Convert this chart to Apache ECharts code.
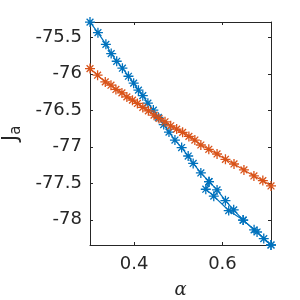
<!DOCTYPE html>
<html><head><meta charset="utf-8">
<script src="https://cdn.jsdelivr.net/npm/echarts@6/dist/echarts.min.js"></script>
<style>html,body{margin:0;padding:0;background:#fff}#c{width:300px;height:300px}</style>
</head><body><div id="c"></div>
<script>
// Blue series: alpha values and J_a values (main path)
const blueX = [0.300,0.318,0.336,0.348,0.3605,0.3734,0.3871,0.3989,0.4097,0.4196,0.4311,0.4435,0.4548,0.467,0.4789,0.4924,0.5076,0.5224,0.5337,0.5511,0.5696,0.5878,0.6068,0.6255,0.6469,0.6717,0.6936,0.710];
const blueY = [-75.291,-75.436,-75.596,-75.723,-75.828,-75.923,-76.033,-76.128,-76.224,-76.299,-76.402,-76.497,-76.596,-76.695,-76.798,-76.907,-77.010,-77.126,-77.228,-77.358,-77.477,-77.590,-77.738,-77.863,-78.004,-78.137,-78.257,-78.345];
// Blue second branch (overlapping run)
const blue2X = [0.5696,0.5623,0.5804,0.6142,0.6469,0.6784,0.710];
const blue2Y = [-77.477,-77.581,-77.676,-77.873,-78.004,-78.167,-78.345];
// Orange series
const orangeX = [0.300,0.3172,0.3346,0.3475,0.3587,0.3723,0.3835,0.3962,0.4074,0.4196,0.4322,0.4451,0.4564,0.4699,0.4828,0.4963,0.5098,0.524,0.5375,0.5511,0.5691,0.5878,0.6068,0.6262,0.6487,0.6713,0.6915,0.710];
const orangeY = [-75.928,-76.019,-76.111,-76.156,-76.214,-76.261,-76.316,-76.361,-76.406,-76.460,-76.507,-76.566,-76.611,-76.657,-76.712,-76.757,-76.802,-76.857,-76.907,-76.975,-77.034,-77.098,-77.171,-77.235,-77.317,-77.399,-77.463,-77.536];
const xTicks = [0.4, 0.6];
const yTicks = [-78, -77.5, -77, -76.5, -76, -75.5];

const BLUE = '#0072BD', ORANGE = '#D95319', AX = '#262626';
const STAR = 'path://M5,0L5,10M0,5L10,5M1.6,1.6L8.4,8.4M1.6,8.4L8.4,1.6';
const zip = (a, b) => a.map((v, i) => [v, b[i]]);
const font = 'DejaVu Sans';

function mkSeries(x, y, c) {
  return {
    type: 'line', data: zip(x, y), symbol: STAR, symbolSize: 10,
    itemStyle: { color: c, borderColor: c, borderWidth: 1.3 },
    lineStyle: { color: c, width: 1.2 }, silent: true, animation: false
  };
}
const xRange = { min: 0.3, max: 0.71 };
const yRange = { min: -78.345, max: -75.29 };
const axLine = { show: true, lineStyle: { color: AX, width: 1 } };

const chart = echarts.init(document.getElementById('c'));
chart.setOption({
  animation: false,
  grid: { left: 90, right: 29, top: 22, bottom: 55, containLabel: false, outerBoundsMode: 'none' },
  xAxis: [
    { type: 'value', ...xRange, position: 'bottom', axisLine: axLine,
      axisTick: { inside: true, length: 3, lineStyle: { color: AX }, customValues: xTicks },
      axisLabel: { customValues: xTicks, color: AX, fontSize: 18, fontFamily: font, margin: 10 },
      splitLine: { show: false },
      name: 'α', nameLocation: 'middle', nameGap: 36,
      nameTextStyle: { fontFamily: 'DejaVu Serif', fontStyle: 'italic', fontSize: 18, color: AX } },
    { type: 'value', ...xRange, position: 'top', axisLine: axLine,
      axisTick: { inside: true, length: 3, lineStyle: { color: AX }, customValues: xTicks },
      axisLabel: { show: false }, splitLine: { show: false } }
  ],
  yAxis: [
    { type: 'value', ...yRange, position: 'left', axisLine: axLine,
      axisTick: { inside: true, length: 3, lineStyle: { color: AX }, customValues: yTicks },
      axisLabel: { customValues: yTicks, color: AX, fontSize: 18, fontFamily: font, margin: 8 },
      splitLine: { show: false },
      name: '{j|J}{s|a}', nameLocation: 'middle', nameGap: 66, nameRotate: 90,
      nameTextStyle: { color: AX, fontFamily: font,
        rich: { j: { fontSize: 22, fontFamily: font, color: AX },
                s: { fontSize: 15, fontFamily: font, color: AX, padding: [10, 0, 0, 0] } } } },
    { type: 'value', ...yRange, position: 'right', axisLine: axLine,
      axisTick: { inside: true, length: 3, lineStyle: { color: AX }, customValues: yTicks },
      axisLabel: { show: false }, splitLine: { show: false } }
  ],
  series: [
    mkSeries(blueX, blueY, BLUE),
    mkSeries(blue2X, blue2Y, BLUE),
    mkSeries(orangeX, orangeY, ORANGE)
  ]
});
</script></body></html>
